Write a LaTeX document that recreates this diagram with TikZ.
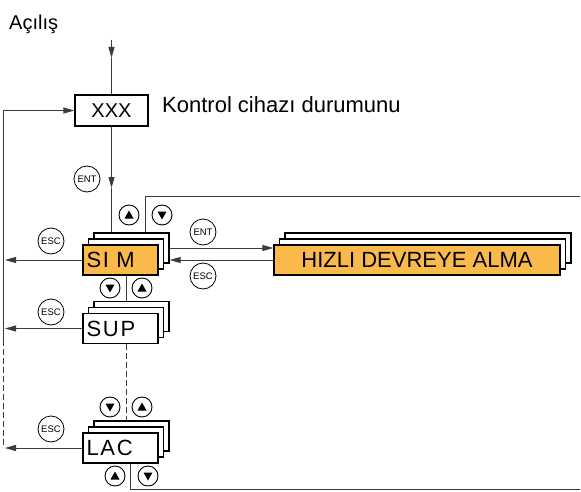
\documentclass[tikz,border=0pt]{standalone}
\usepackage{fontspec}
\setmainfont{Liberation Sans}
\usetikzlibrary{arrows.meta, positioning, calc}
\definecolor{simorange}{RGB}{250,185,75}
\definecolor{linkgrey}{RGB}{60,60,60}
\newcommand{\menufont}{\fontsize{22}{24}\selectfont\addfontfeature{LetterSpace=8}}

\begin{document}
\begin{tikzpicture}[x=1pt, y=-1pt,
        menu/.style={draw, line width=1.2pt, fill=white, minimum width=75pt, minimum height=30pt, inner sep=0pt, text width=68pt, align=left, font=\menufont},
        wide/.style={draw, line width=1.2pt, fill=simorange, minimum width=286pt, minimum height=30pt, inner sep=0pt, font=\fontsize{22}{24}\selectfont},
        key/.style={draw, circle, line width=0.8pt, minimum size=26pt, inner sep=0pt, font=\fontsize{9.5}{10}\selectfont},
        btn/.style={draw, circle, line width=0.9pt, minimum size=20pt, inner sep=0pt},
        btnup/.style={btn, path picture={\fill ($(path picture bounding box.center)+(0pt,4.5pt)$) -- ++(-4.5pt,-8pt) -- ++(9pt,0pt) -- cycle;}},
        btndown/.style={btn, path picture={\fill ($(path picture bounding box.center)+(0pt,-4.5pt)$) -- ++(-4.5pt,8pt) -- ++(9pt,0pt) -- cycle;}},
        link/.style={line width=0.8pt, draw=linkgrey},
        gap/.style={dash pattern=on 6pt off 3pt},
        arr/.style={-{Triangle[length=11pt, width=6pt]}}
    ]
        \useasboundingbox (0,0) rectangle (581,492);

        \node[anchor=base west, inner sep=0pt, font=\fontsize{20}{22}\selectfont] (title) at (9,30) {Açılış};
        \node[draw, line width=1.2pt, minimum width=73pt, minimum height=31pt, inner sep=0pt, font=\fontsize{20}{22}\selectfont] (xxx) at (111.5,110.5) {XXX};
        \node[anchor=base west, inner sep=0pt, font=\fontsize{22}{24}\selectfont] (state) at (162,113) {Kontrol cihazı durumunu};

        % menu stacks
        \node[menu] (sim3) at (131.5,248) {};
        \node[menu] (sim2) at (126,254) {};
        \node[menu, fill=simorange] (sim) at (120.5,260) {SI M};

        \node[menu] (sup3) at (131.5,316.5) {};
        \node[menu] (sup2) at (126,322.5) {};
        \node[menu] (sup) at (120.5,328.5) {SUP};

        \node[menu] (lac3) at (131.5,436) {};
        \node[menu] (lac2) at (126,442) {};
        \node[menu] (lac) at (120.5,448) {LAC};

        \node[wide, fill=white] (hizli3) at (428,248) {};
        \node[wide, fill=white] (hizli2) at (422.5,254) {};
        \node[wide] (hizli) at (417,260) {HIZLI DEVREYE ALMA};

        % keys
        \node[key] (entxxx) at (87,179) {ENT};
        \node[key] (escsim) at (51,241) {ESC};
        \node[key] (escsup) at (51,312) {ESC};
        \node[key] (esclac) at (51,429) {ESC};
        \node[key] (enthizli) at (203,232) {ENT};
        \node[key] (eschizli) at (203,276) {ESC};

        \node[btnup] (simup) at (129,215) {};
        \node[btndown] (simdown) at (162,215) {};
        \node[btndown] (supdown) at (110,288) {};
        \node[btnup] (supup) at (142,288) {};
        \node[btndown] (lacdown) at (110,407) {};
        \node[btnup] (lacup) at (142,407) {};
        \node[btnup] (loopup) at (115,476) {};
        \node[btndown] (loopdown) at (148,476) {};

        \coordinate (power) at (111.5,40);
        \coordinate (powertip) at (111.5,58);
        \coordinate (enttip) at (111.5,188);
        \coordinate (railtop) at (3,110.5);
        \coordinate (railmid) at (3,340);
        \coordinate (railbottom) at (3,448);
        \coordinate (railx) at (5,0);
        \coordinate (rightx) at (580,0);
        \coordinate (toploop) at (145,196.5);
        \coordinate (botloop) at (130,489);

        \draw [link, arr] (power) -- (powertip);
        \draw [link] (powertip) -- (xxx.north);
        \draw [link, arr] (xxx.south) -- (enttip);
        \draw [link] (enttip) -- (enttip |- sim3.north);
        \draw [link, arr] (railmid) -- (railtop) -- (xxx.west);
        \draw [link, gap] (railmid) -- (railbottom);

        \draw [link, arr] (sim.west) -- (sim.west -| railx);
        \draw [link, arr] (sup.west) -- (sup.west -| railx);
        \draw [link, arr] (lac.west) -- (lac.west -| railx);

        \draw [link, arr] (sim3.east) -- (sim3.east -| hizli.west);
        \draw [link, arr] (hizli.west) -- (hizli.west -| sim3.east);

        \draw [link] (sim2.center |- sim.south) -- (sim2.center |- sup3.north);
        \draw [link, gap] (sup2.center |- sup.south) -- (sup2.center |- lac3.north);

        \draw [link] (toploop |- sim3.north) -- (toploop) -- (toploop -| rightx);
        \draw [link] (botloop |- lac.south) -- (botloop) -- (botloop -| rightx);
    \end{tikzpicture}
\end{document}
